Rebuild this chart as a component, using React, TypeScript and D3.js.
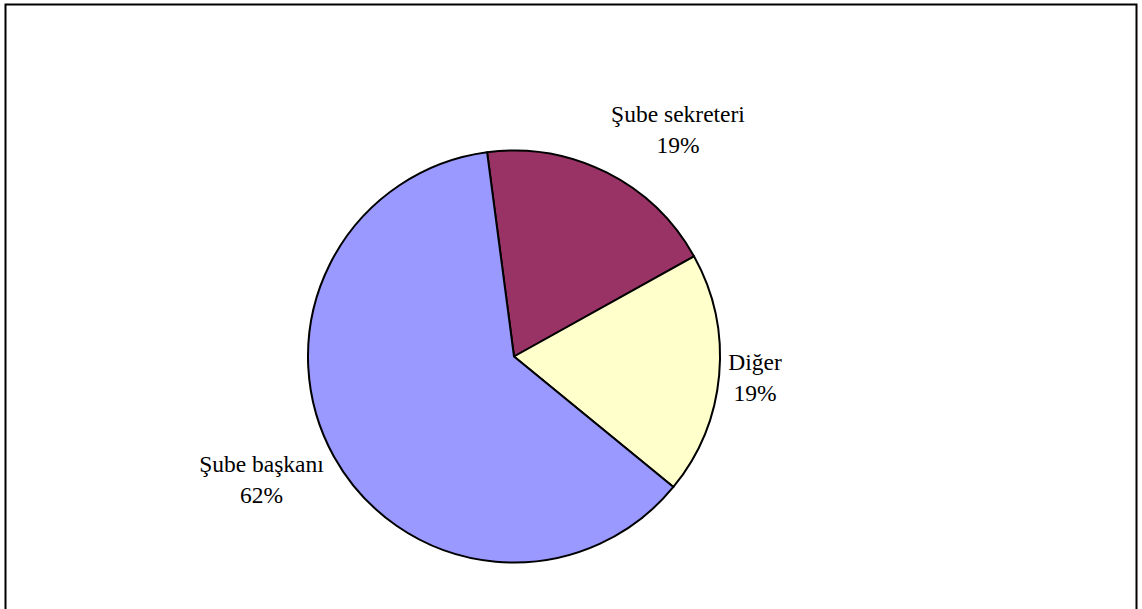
import React from "react";
import * as d3 from "d3";

const categories = ["Şube sekreteri", "Diğer", "Şube başkanı"];
const values = [19, 19, 62];
const labels = ["19%", "19%", "62%"];
const colors = ["#993366", "#FFFFCC", "#9999FF"];

const W = 1142;
const H = 609;
const cx = 514;
const cy = 356.5;
const R = 206;
const startDeg = -7.5;

const labelPos = [
  { x: 678, y: 122 },
  { x: 755, y: 370 },
  { x: 261.5, y: 472 },
];

export default function App() {
  const start = (startDeg * Math.PI) / 180;
  const pie = d3
    .pie<number>()
    .sort(null)
    .startAngle(start)
    .endAngle(start + 2 * Math.PI)(values);
  const arc = d3.arc<d3.PieArcDatum<number>>().innerRadius(0).outerRadius(R);
  return (
    <svg
      width={W}
      height={H}
      style={{ position: "absolute", left: 0, top: 0 }}
      fontFamily="'Liberation Serif', 'Times New Roman', serif"
    >
      <rect x={0} y={0} width={W} height={H} fill="#fff" />
      <rect x={5.5} y={4.5} width={1131} height={H + 10} fill="none" stroke="#000" strokeWidth={2} />
      <g transform={`translate(${cx},${cy})`}>
        {pie.map((d, i) => (
          <path key={i} d={arc(d) || ""} fill={colors[i]} stroke="#000" strokeWidth={2} strokeLinejoin="round" />
        ))}
      </g>
      {categories.map((c, i) => (
        <text key={i} textAnchor="middle" fontSize={23.5} fill="#000">
          <tspan x={labelPos[i].x} y={labelPos[i].y}>{c}</tspan>
          <tspan x={labelPos[i].x} y={labelPos[i].y + 30.5}>{labels[i]}</tspan>
        </text>
      ))}
    </svg>
  );
}
